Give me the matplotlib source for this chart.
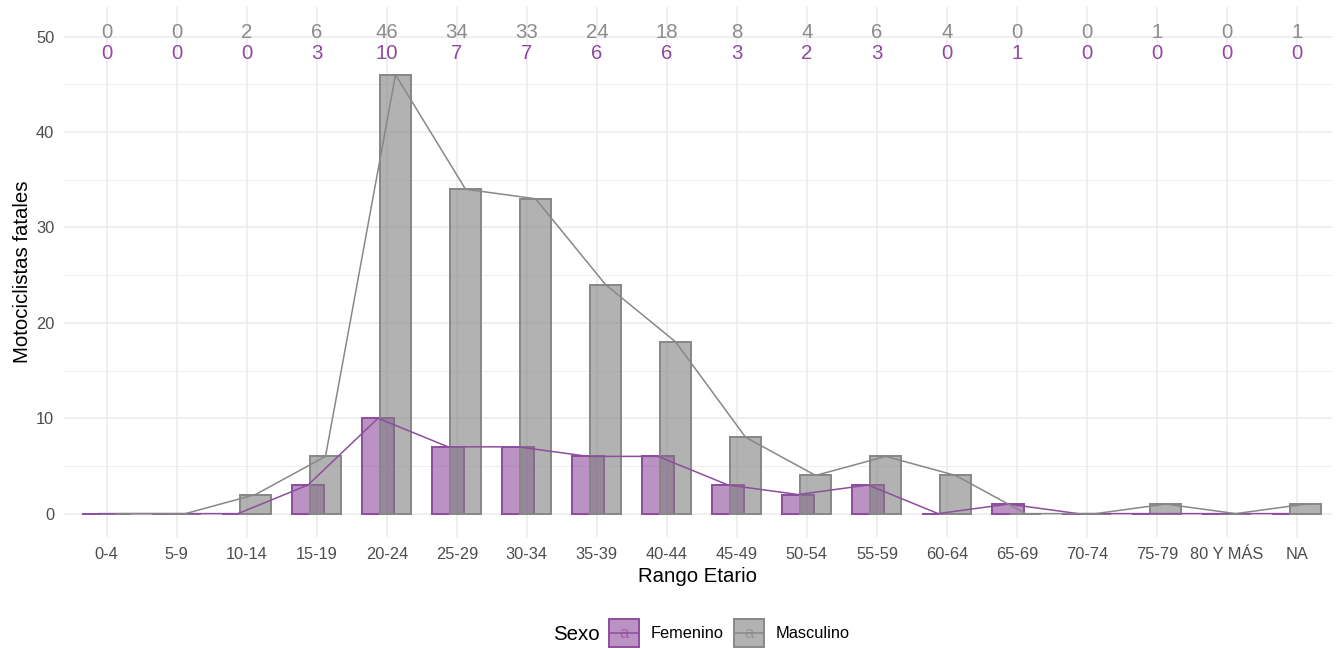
import numpy as np
import matplotlib
matplotlib.use("Agg")
import matplotlib.pyplot as plt
from matplotlib.patches import Patch, Rectangle
from matplotlib.lines import Line2D
from matplotlib.text import Text
from matplotlib.legend_handler import HandlerBase

plt.rcParams['font.family'] = ['Liberation Sans', 'DejaVu Sans']

rangos = ['0-4', '5-9', '10-14', '15-19', '20-24', '25-29', '30-34', '35-39',
          '40-44', '45-49', '50-54', '55-59', '60-64', '65-69', '70-74',
          '75-79', '80 Y MÁS', 'NA']
masculino = [0, 0, 2, 6, 46, 34, 33, 24, 18, 8, 4, 6, 4, 0, 0, 1, 0, 1]
femenino = [0, 0, 0, 3, 10, 7, 7, 6, 6, 3, 2, 3, 0, 1, 0, 0, 0, 0]

COL_FEM = '#8E4A9E'
COL_MAS = '#808080'
EDGE_FEM = '#8E4E9E'
EDGE_MAS = '#888888'

W, H = 1343, 649
fig = plt.figure(figsize=(W / 100, H / 100), dpi=100)
ax = fig.add_axes([64 / W, 1 - 537 / H, (1332 - 64) / W, (537 - 7) / H])

x = np.arange(1, len(rangos) + 1)
bar_w = 0.45
shift = 0.125

# bars, dodged and overlapping like the original
ax.bar(x - shift, femenino, width=bar_w, color=COL_FEM, alpha=0.6,
       edgecolor=EDGE_FEM, linewidth=1.4, zorder=2)
ax.bar(x - shift, femenino, width=bar_w, fill=False,
       edgecolor=EDGE_FEM, linewidth=1.4, zorder=2.1)
ax.bar(x + shift, masculino, width=bar_w, color=COL_MAS, alpha=0.6,
       edgecolor=EDGE_MAS, linewidth=1.4, zorder=2.2)
ax.bar(x + shift, masculino, width=bar_w, fill=False,
       edgecolor=EDGE_MAS, linewidth=1.4, zorder=2.3)

# connecting lines
ax.plot(x - shift, femenino, color=EDGE_FEM, linewidth=1.1, zorder=3)
ax.plot(x + shift, masculino, color=EDGE_MAS, linewidth=1.1, zorder=3)

# count labels at the top
for xi, m, f in zip(x, masculino, femenino):
    ax.text(xi, 50.4, str(m), ha='center', va='center', fontsize=14.7,
            color='#8C8C8C', zorder=4)
    ax.text(xi, 48.2, str(f), ha='center', va='center', fontsize=14.7,
            color=COL_FEM, zorder=4)

ax.set_xlim(0.39, 18.5)
ax.set_ylim(-2.45, 53.1)
ax.set_xticks(x)
ax.set_xticklabels(rangos)
ax.set_yticks([0, 10, 20, 30, 40, 50])
ax.set_yticks([5, 15, 25, 35, 45], minor=True)

ax.grid(True, which='major', color='#EBEBEB', linewidth=1.1, zorder=0)
ax.grid(True, which='minor', axis='y', color='#EBEBEB', linewidth=0.6, zorder=0)
ax.set_axisbelow(True)
for s in ax.spines.values():
    s.set_visible(False)
ax.tick_params(axis='both', which='both', length=0, labelsize=11.8,
               labelcolor='#4D4D4D')
ax.tick_params(axis='x', pad=7)
ax.tick_params(axis='y', pad=7)

ax.set_xlabel('Rango Etario', fontsize=14.7, color='black', labelpad=4)
ax.set_ylabel('Motociclistas fatales', fontsize=14.7, color='black', labelpad=3)


class KeyHandler(HandlerBase):
    def create_artists(self, legend, orig_handle, xdescent, ydescent,
                       width, height, fontsize, trans):
        ec = orig_handle.get_edgecolor()
        fc = orig_handle.get_facecolor()
        x0, y0 = -xdescent, -ydescent - 3
        h = height + 6
        rect = Rectangle((x0, y0), width, h, facecolor=fc, edgecolor=ec,
                         linewidth=1.4, transform=trans)
        line = Line2D([x0, x0 + width], [y0 + h / 2] * 2, color=ec,
                      linewidth=1.1, transform=trans)
        txt = Text(x0 + width / 2, y0 + h / 2, 'a', ha='center',
                   va='center', color=ec, alpha=0.7, fontsize=12,
                   transform=trans)
        return [rect, line, txt]


handles = [
    Patch(facecolor=matplotlib.colors.to_rgba(COL_FEM, 0.6), edgecolor=EDGE_FEM),
    Patch(facecolor=matplotlib.colors.to_rgba(COL_MAS, 0.6), edgecolor=EDGE_MAS),
]
fig.text(553 / W, 1 - 634 / H, 'Sexo', ha='left', va='center', fontsize=14.7)
fig.legend(handles, ['Femenino', 'Masculino'], handler_map={Patch: KeyHandler()},
           loc='center left', bbox_to_anchor=(609 / W, 1 - 633 / H),
           bbox_transform=fig.transFigure, ncol=2, frameon=False,
           fontsize=11.8, handlelength=1.85, handleheight=1.5,
           handletextpad=0.7, columnspacing=0.6, borderpad=0, borderaxespad=0)

fig.savefig('out.png', dpi=100)
